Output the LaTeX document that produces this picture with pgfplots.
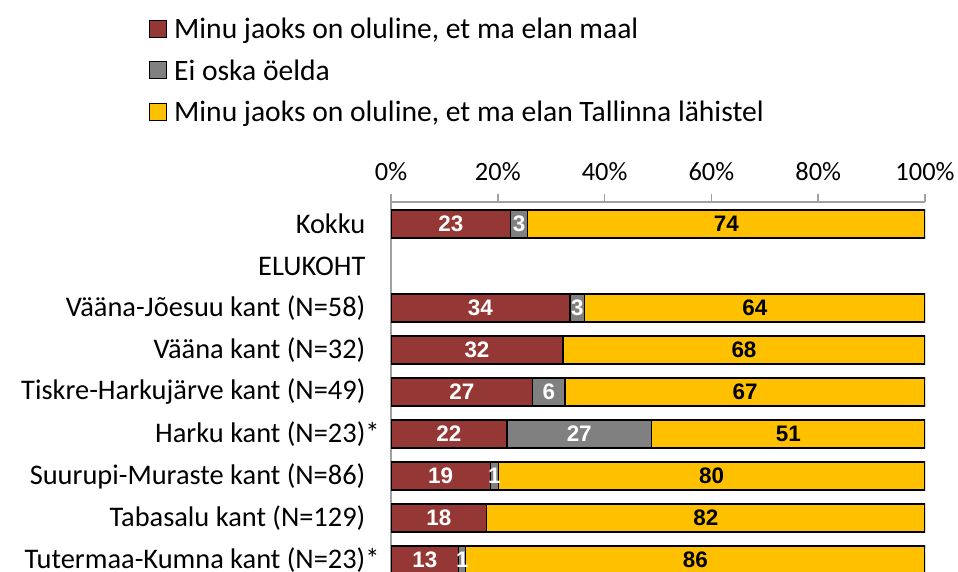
\documentclass[border=0pt]{standalone}
\usepackage{pgfplots}
\pgfplotsset{compat=1.18}
\usepackage{pgfplotstable}
\usepackage{fontspec}
\setmainfont{Carlito}
\newfontfamily\barfont{Liberation Sans}
\definecolor{cred}{RGB}{149,55,53}
\definecolor{cgray}{RGB}{128,128,128}
\definecolor{cyellow}{RGB}{255,192,0}
\definecolor{axgray}{RGB}{160,160,160}

\pgfplotstableread{
y   red   gray  yellow
8   22.4  3.2   74.4
6   33.5  2.8   63.7
5   32.2  0     67.8
4   26.5  6.1   67.4
3   21.7  27.1  51.2
2   18.6  1.5   79.9
1   17.9  0     82.1
0   12.7  1.3   86.0
}\datatable

\begin{document}
\begin{tikzpicture}
\useasboundingbox (0bp,0bp) rectangle (958bp,572bp);
\begin{axis}[
  at={(391bp,0bp)}, anchor=south west,
  scale only axis, width=534bp, height=370bp,
  xbar stacked, bar width=0.67,
  xmin=0, xmax=100, ymin=-0.286, ymax=8.524,
  axis x line*=top, axis y line*=left,
  axis line style={draw=axgray, line width=1.5bp, -},
  xtick={0,20,40,60,80,100},
  xticklabels={0\%,20\%,40\%,60\%,80\%,100\%},
  xticklabel pos=top,
  tick align=outside,
  major tick length=8bp,
  xtick style={draw=axgray, line width=1.5bp},
  ytick={0,1,2,3,4,5,6,7,8},
  yticklabels={Tutermaa-Kumna kant (N=23)*, Tabasalu kant (N=129)\phantom{*}, Suurupi-Muraste kant (N=86)\phantom{*}, Harku kant (N=23)*, Tiskre-Harkujärve kant (N=49)\phantom{*}, Vääna kant (N=32)\phantom{*}, Vääna-Jõesuu kant (N=58)\phantom{*}, ELUKOHT\phantom{*}, Kokku\phantom{*}},
  ytick style={draw=none},
  xticklabel style={font=\fontsize{26.5}{31}\selectfont, yshift=10bp},
  yticklabel style={font=\fontsize{28.5}{34}\selectfont},
  legend image code/.code={\draw[#1, line width=1bp] (0bp,-8.5bp) rectangle (17bp,8.5bp); \path (22bp,0bp);},
  legend cell align=left,
  legend style={at={(-0.4535,1.502)}, anchor=north west, draw=none, fill=none,
    inner sep=0pt, row sep=15bp, font=\fontsize{29.7}{35}\selectfont},
]
\addplot[fill=cred, draw=black, line width=1.3bp] table[x=red, y=y] {\datatable};
\addplot[fill=cgray, draw=black, line width=1.3bp] table[x=gray, y=y] {\datatable};
\addplot[fill=cyellow, draw=black, line width=1.3bp] table[x=yellow, y=y] {\datatable};
\legend{{Minu jaoks on oluline, et ma elan maal}, Ei oska öelda, {Minu jaoks on oluline, et ma elan Tallinna lähistel}}
\end{axis}
\begin{axis}[
  at={(391bp,0bp)}, anchor=south west,
  scale only axis, width=534bp, height=370bp,
  xmin=0, xmax=100, ymin=-0.286, ymax=8.524,
  hide axis, clip=false,
]
\addplot[draw=none, nodes near coords, point meta=explicit symbolic,
  every node near coord/.append style={anchor=center, text=white, font=\barfont\bfseries\fontsize{22.5}{26}\selectfont}]
  coordinates {(11.2,8)[23] (16.75,6)[34] (16.1,5)[32] (13.25,4)[27] (10.85,3)[22] (9.3,2)[19] (8.95,1)[18] (6.35,0)[13]};
\addplot[draw=none, nodes near coords, point meta=explicit symbolic,
  every node near coord/.append style={anchor=center, text=white, font=\barfont\bfseries\fontsize{22.5}{26}\selectfont}]
  coordinates {(24.0,8)[3] (34.9,6)[3] (29.55,4)[6] (35.25,3)[27] (19.35,2)[1] (13.35,0)[1]};
\addplot[draw=none, nodes near coords, point meta=explicit symbolic,
  every node near coord/.append style={anchor=center, text=black, font=\barfont\bfseries\fontsize{22.5}{26}\selectfont}]
  coordinates {(62.8,8)[74] (68.15,6)[64] (66.1,5)[68] (66.3,4)[67] (74.4,3)[51] (60.05,2)[80] (58.95,1)[82] (57.0,0)[86]};
\end{axis}
\end{tikzpicture}
\end{document}
